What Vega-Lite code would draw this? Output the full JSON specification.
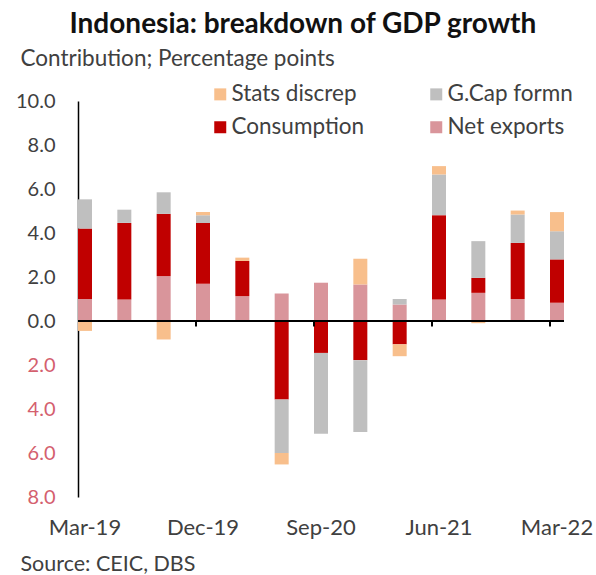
{
  "$schema": "https://vega.github.io/schema/vega-lite/v6.json",
  "width": 486,
  "height": 396,
  "autosize": "none",
  "padding": {"left": 78, "top": 101, "right": 32, "bottom": 78},
  "background": "white",
  "config": {
    "font": "Lato",
    "view": {"stroke": null}
  },
  "title": {
    "text": "Indonesia: breakdown of GDP growth",
    "anchor": "start",
    "dx": 54,
    "dy": -4,
    "fontSize": 28,
    "fontWeight": "bold",
    "color": "#111111",
    "font": "Lato"
  },
  "data": {
    "values": [
      {"q": "Mar-19", "series": "Net exports", "value": 1.0},
      {"q": "Mar-19", "series": "Consumption", "value": 3.2},
      {"q": "Mar-19", "series": "G.Cap formn", "value": 1.33},
      {"q": "Mar-19", "series": "Stats discrep", "value": -0.45},
      {"q": "Jun-19", "series": "Net exports", "value": 0.98},
      {"q": "Jun-19", "series": "Consumption", "value": 3.48},
      {"q": "Jun-19", "series": "G.Cap formn", "value": 0.6},
      {"q": "Jun-19", "series": "Stats discrep", "value": 0.0},
      {"q": "Sep-19", "series": "Net exports", "value": 2.04},
      {"q": "Sep-19", "series": "Consumption", "value": 2.83},
      {"q": "Sep-19", "series": "G.Cap formn", "value": 0.98},
      {"q": "Sep-19", "series": "Stats discrep", "value": -0.84},
      {"q": "Dec-19", "series": "Net exports", "value": 1.69},
      {"q": "Dec-19", "series": "Consumption", "value": 2.77},
      {"q": "Dec-19", "series": "G.Cap formn", "value": 0.35},
      {"q": "Dec-19", "series": "Stats discrep", "value": 0.15},
      {"q": "Mar-20", "series": "Net exports", "value": 1.13},
      {"q": "Mar-20", "series": "Consumption", "value": 1.6},
      {"q": "Mar-20", "series": "G.Cap formn", "value": 0.0},
      {"q": "Mar-20", "series": "Stats discrep", "value": 0.15},
      {"q": "Jun-20", "series": "Net exports", "value": 1.25},
      {"q": "Jun-20", "series": "Consumption", "value": -3.57},
      {"q": "Jun-20", "series": "G.Cap formn", "value": -2.43},
      {"q": "Jun-20", "series": "Stats discrep", "value": -0.52},
      {"q": "Sep-20", "series": "Net exports", "value": 1.74},
      {"q": "Sep-20", "series": "Consumption", "value": -1.45},
      {"q": "Sep-20", "series": "G.Cap formn", "value": -3.68},
      {"q": "Sep-20", "series": "Stats discrep", "value": 0.0},
      {"q": "Dec-20", "series": "Net exports", "value": 1.66},
      {"q": "Dec-20", "series": "Consumption", "value": -1.78},
      {"q": "Dec-20", "series": "G.Cap formn", "value": -3.27},
      {"q": "Dec-20", "series": "Stats discrep", "value": 1.17},
      {"q": "Mar-21", "series": "Net exports", "value": 0.75},
      {"q": "Mar-21", "series": "Consumption", "value": -1.06},
      {"q": "Mar-21", "series": "G.Cap formn", "value": 0.25},
      {"q": "Mar-21", "series": "Stats discrep", "value": -0.54},
      {"q": "Jun-21", "series": "Net exports", "value": 0.98},
      {"q": "Jun-21", "series": "Consumption", "value": 3.83},
      {"q": "Jun-21", "series": "G.Cap formn", "value": 1.85},
      {"q": "Jun-21", "series": "Stats discrep", "value": 0.38},
      {"q": "Sep-21", "series": "Net exports", "value": 1.28},
      {"q": "Sep-21", "series": "Consumption", "value": 0.68},
      {"q": "Sep-21", "series": "G.Cap formn", "value": 1.67},
      {"q": "Sep-21", "series": "Stats discrep", "value": -0.1},
      {"q": "Dec-21", "series": "Net exports", "value": 1.0},
      {"q": "Dec-21", "series": "Consumption", "value": 2.55},
      {"q": "Dec-21", "series": "G.Cap formn", "value": 1.29},
      {"q": "Dec-21", "series": "Stats discrep", "value": 0.18},
      {"q": "Mar-22", "series": "Net exports", "value": 0.83},
      {"q": "Mar-22", "series": "Consumption", "value": 1.97},
      {"q": "Mar-22", "series": "G.Cap formn", "value": 1.28},
      {"q": "Mar-22", "series": "Stats discrep", "value": 0.87}
    ]
  },
  "layer": [
    {
      "transform": [
        {"calculate": "indexof(['Net exports','Consumption','G.Cap formn','Stats discrep'], datum.series)", "as": "stackorder"}
      ],
      "mark": {"type": "bar"},
      "encoding": {
        "x": {
          "field": "q",
          "type": "nominal",
          "sort": null,
          "scale": {"paddingInner": 0.644, "paddingOuter": 0},
          "axis": {
            "values": ["Mar-19", "Dec-19", "Sep-20", "Jun-21", "Mar-22"],
            "labelAngle": 0,
            "labelFontSize": 22,
            "labelColor": "#404040",
            "labelPadding": 20,
            "domain": false,
            "ticks": false,
            "grid": false,
            "title": "Source: CEIC, DBS",
            "titleFontSize": 21.5,
            "titleFontWeight": "normal",
            "titleColor": "#404040",
            "titleAnchor": "start",
            "titleAlign": "left",
            "titleBaseline": "alphabetic",
            "titleX": -58,
            "titleY": 73
          }
        },
        "y": {
          "field": "value",
          "type": "quantitative",
          "stack": "zero",
          "scale": {"domain": [-8, 10], "nice": false, "zero": false},
          "axis": {
            "values": [-8, -6, -4, -2, 0, 2, 4, 6, 8, 10],
            "labelExpr": "format(abs(datum.value), '.1f')",
            "labelFontSize": 20,
            "labelColor": {"condition": {"test": "datum.value < 0", "value": "#D4606E"}, "value": "#404040"},
            "labelPadding": 23,
            "ticks": false,
            "grid": false,
            "domain": true,
            "domainColor": "#000000",
            "domainWidth": 1.5,
            "title": "Contribution; Percentage points",
            "titleAngle": 0,
            "titleFontSize": 22.5,
            "titleFontWeight": "normal",
            "titleColor": "#404040",
            "titleAlign": "left",
            "titleAnchor": "start",
            "titleBaseline": "alphabetic",
            "titleX": -58,
            "titleY": -36
          }
        },
        "color": {
          "field": "series",
          "type": "nominal",
          "scale": {
            "domain": ["Stats discrep", "G.Cap formn", "Consumption", "Net exports"],
            "range": ["#F8BF8C", "#BFBFBF", "#C00000", "#D9959B"]
          },
          "legend": {
            "orient": "none",
            "direction": "horizontal",
            "legendX": 131,
            "legendY": -18,
            "columns": 2,
            "title": null,
            "symbolType": "square",
            "symbolSize": 144,
            "symbolStrokeWidth": 0,
            "labelFontSize": 22.5,
            "labelColor": "#404040",
            "labelOffset": 0,
            "columnPadding": 60,
            "rowPadding": 10
          }
        },
        "order": {"field": "stackorder", "type": "quantitative"}
      }
    },
    {
      "mark": {"type": "rule", "color": "#000000", "strokeWidth": 1.5},
      "encoding": {"y": {"datum": 0}}
    },
    {
      "transform": [
        {"filter": "datum.series === 'Net exports' && indexof(['Dec-19','Sep-20','Jun-21','Mar-22'], datum.q) >= 0"}
      ],
      "mark": {"type": "rule", "color": "#000000", "strokeWidth": 2},
      "encoding": {
        "x": {"field": "q", "type": "nominal", "sort": null, "bandPosition": 0},
        "y": {"datum": 0},
        "y2": {"datum": -0.25}
      }
    }
  ]
}
